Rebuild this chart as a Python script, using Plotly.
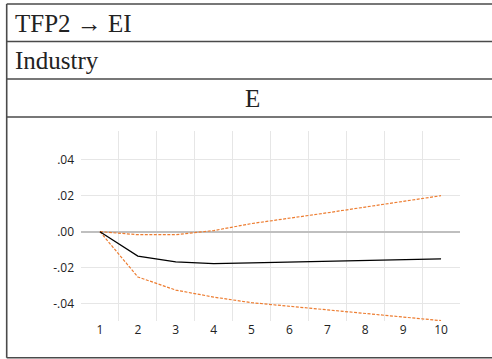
import plotly.graph_objects as go

periods = [1, 2, 3, 4, 5, 6, 7, 8, 9, 10]
response = [0.0, -0.0136, -0.0168, -0.0178, -0.0174, -0.0169, -0.0164, -0.0160, -0.0155, -0.0151]
upper_band = [0.0, -0.0017, -0.0017, 0.0006, 0.0045, 0.0074, 0.0105, 0.0137, 0.0168, 0.0200]
lower_band = [0.0, -0.0252, -0.0325, -0.0364, -0.0395, -0.0415, -0.0435, -0.0455, -0.0475, -0.0495]
y_tickvals = [-0.04, -0.02, 0.0, 0.02, 0.04]
y_ticktext = ["-.04", "-.02", ".00", ".02", ".04"]
title_rows = ["TFP2 \u2192 EI", "Industry", "E"]

W, H = 492, 359
PL, PR, PT, PB = 81, 460, 131, 321


def px(x):
    return (x - PL) / (PR - PL)


def py(y):
    return (PB - y) / (PB - PT)


fig = go.Figure()
orange = "#ED7D31"
fig.add_trace(go.Scatter(x=periods, y=upper_band, mode="lines",
                         line=dict(color=orange, width=1.2, dash="3px,1.5px"), hoverinfo="skip"))
fig.add_trace(go.Scatter(x=periods, y=lower_band, mode="lines",
                         line=dict(color=orange, width=1.2, dash="3px,1.5px"), hoverinfo="skip"))
fig.add_trace(go.Scatter(x=periods, y=response, mode="lines",
                         line=dict(color="#000000", width=1.2), hoverinfo="skip"))

border = "#4a4a4a"
shapes = []
left_x = 6.7
for yy in [4, 41.5, 79, 117, 357.7]:
    shapes.append(dict(type="line", xref="paper", yref="paper",
                       x0=px(left_x), x1=px(W), y0=py(yy), y1=py(yy),
                       line=dict(color=border, width=1.6)))
shapes.append(dict(type="line", xref="paper", yref="paper",
                   x0=px(left_x), x1=px(left_x), y0=py(4), y1=py(357.7),
                   line=dict(color=border, width=1.6)))

annotations = []
row_centers = [23, 60.5, 98.5]
for i, (txt, yc) in enumerate(zip(title_rows, row_centers)):
    if i < 2:
        annotations.append(dict(text=txt, xref="paper", yref="paper", x=px(13), y=py(yc),
                                 xanchor="left", yanchor="middle", showarrow=False,
                                 font=dict(family="Liberation Serif", size=25, color="#222222")))
    else:
        annotations.append(dict(text=txt, xref="paper", yref="paper", x=px(252), y=py(yc),
                                 xanchor="center", yanchor="middle", showarrow=False,
                                 font=dict(family="Liberation Serif", size=25, color="#222222")))

fig.update_layout(
    width=W, height=H,
    margin=dict(l=PL, r=W - PR, t=PT, b=H - PB, pad=0),
    paper_bgcolor="white", plot_bgcolor="white",
    showlegend=False,
    shapes=shapes, annotations=annotations,
    xaxis=dict(range=[0.5, 10.5], tickvals=periods, ticktext=[str(p) for p in periods],
               showgrid=False, zeroline=False, showline=False, ticks="",
               tickfont=dict(family="Open Sans", size=12, color="#222222"),
               minor=dict(tickvals=[p + 0.5 for p in periods[:-1]], showgrid=True,
                          gridcolor="#e6e6e6", gridwidth=1, ticks=""),
               fixedrange=True),
    yaxis=dict(range=[-0.0497, 0.056], tickvals=y_tickvals, ticktext=y_ticktext,
               showgrid=True, gridcolor="#e6e6e6", gridwidth=1,
               zeroline=True, zerolinecolor="#bfbfbf", zerolinewidth=1.5,
               showline=False, ticks="", ticklabelstandoff=6,
               tickfont=dict(family="Open Sans", size=12, color="#222222"),
               fixedrange=True),
)

fig.write_html("out.html", config={"displayModeBar": False},
               post_script="document.body.style.margin='0';document.body.style.overflow='hidden';"
                           "document.documentElement.style.overflow='hidden';")
